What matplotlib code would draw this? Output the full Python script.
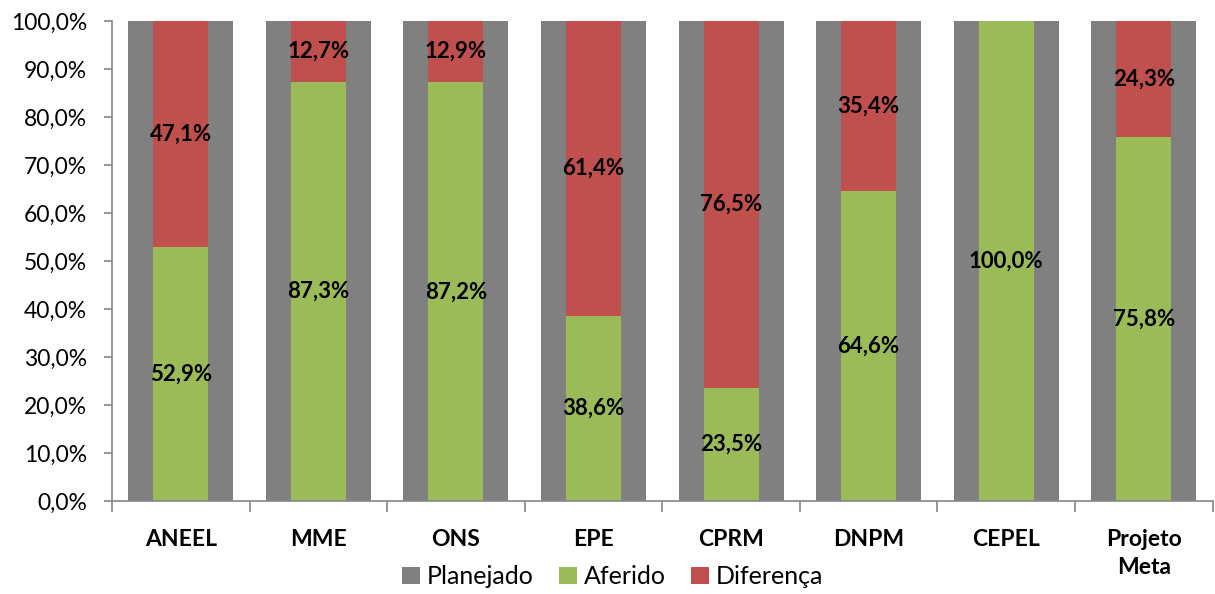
import matplotlib.pyplot as plt
import numpy as np

# dados do gráfico
categorias = ['ANEEL', 'MME', 'ONS', 'EPE', 'CPRM', 'DNPM', 'CEPEL', 'Projeto\nMeta']
planejado = [100.0, 100.0, 100.0, 100.0, 100.0, 100.0, 100.0, 100.0]
aferido = [52.9, 87.3, 87.2, 38.6, 23.5, 64.6, 100.0, 75.8]
diferenca = [47.1, 12.7, 12.9, 61.4, 76.5, 35.4, 0.0, 24.3]

cor_plan = '#808080'
cor_afer = '#9BBB59'
cor_dif = '#C0504D'
cor_eixo = '#868686'

plt.rcParams['font.family'] = ['Lato', 'DejaVu Sans']

fig = plt.figure(figsize=(12.15, 5.94), dpi=100)
ax = fig.add_axes([0.0922, 0.1566, 0.9058, 0.808])

x = np.arange(len(categorias))
ax.bar(x, planejado, width=0.764, color=cor_plan, label='Planejado', zorder=1)
ax.bar(x, aferido, width=0.40, color=cor_afer, label='Aferido', zorder=2)
ax.bar(x, diferenca, width=0.40, bottom=aferido, color=cor_dif, label='Diferença', zorder=2)

def fmt(v):
    return f'{v:.1f}%'.replace('.', ',')

for i in range(len(x)):
    if aferido[i] > 0:
        ax.text(x[i], aferido[i] / 2, fmt(aferido[i]), ha='center', va='center',
                fontsize=16, fontweight='bold', zorder=3)
    if diferenca[i] > 0:
        ax.text(x[i], aferido[i] + diferenca[i] / 2, fmt(diferenca[i]), ha='center',
                va='center', fontsize=16, fontweight='bold', zorder=3)

ax.set_xlim(-0.5, len(categorias) - 0.5)
ax.set_ylim(0, 100)
ax.set_yticks(np.arange(0, 101, 10))
ax.set_yticklabels([fmt(v) for v in np.arange(0, 101, 10)], fontsize=16.5)

# rótulos das categorias centrados, marcas nas fronteiras
ax.set_xticks(x)
ax.set_xticklabels(categorias, fontsize=16.5, fontweight='bold', linespacing=1.45)
ax.tick_params(axis='x', which='major', length=0, pad=20)
ax.set_xticks(np.arange(-0.5, len(categorias), 1), minor=True)
ax.tick_params(axis='x', which='minor', length=8, color=cor_eixo, width=1.2)
ax.tick_params(axis='y', length=6, color=cor_eixo, width=1.2, pad=12)

for s in ['top', 'right']:
    ax.spines[s].set_visible(False)
for s in ['left', 'bottom']:
    ax.spines[s].set_color(cor_eixo)
    ax.spines[s].set_linewidth(1.2)

ax.legend(loc='center', bbox_to_anchor=(0.455, -0.158), ncol=3, frameon=False,
          fontsize=18, handlelength=0.7, handleheight=0.7, handletextpad=0.3,
          columnspacing=1.0, borderpad=0.1)

fig.savefig('out.png', dpi=100)
